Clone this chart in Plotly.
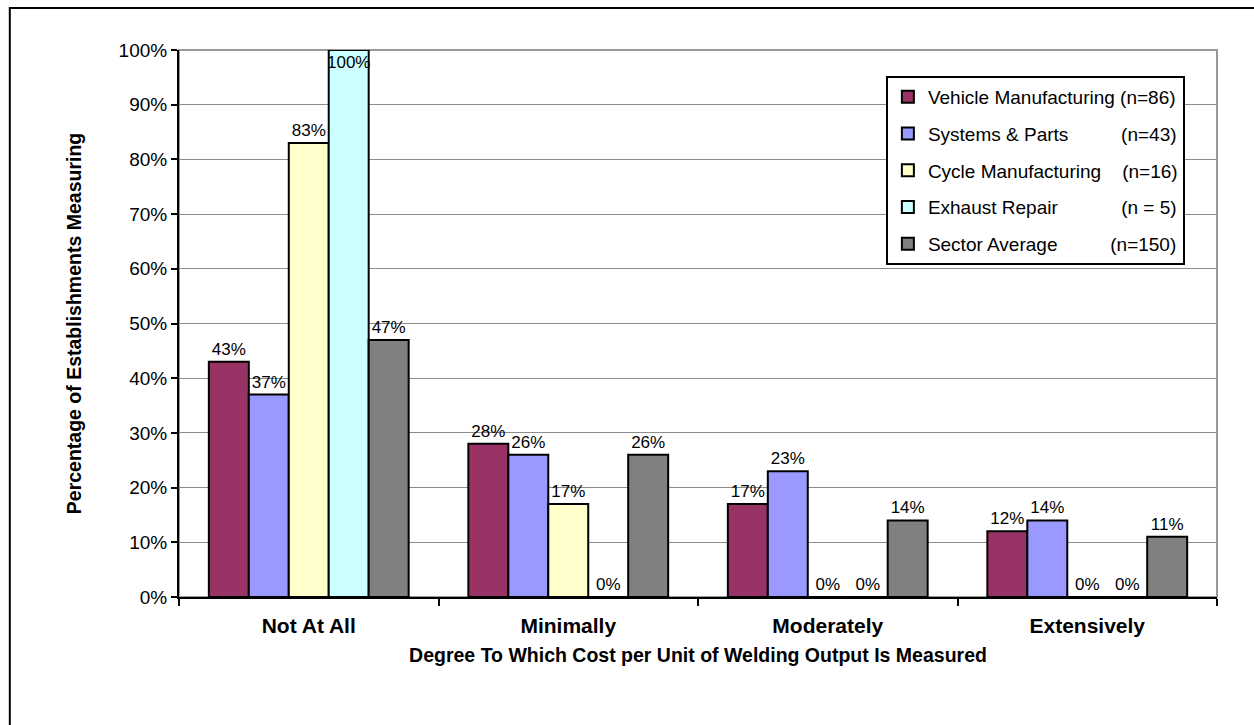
import plotly.graph_objects as go

categories = ['Not At All', 'Minimally', 'Moderately', 'Extensively']

NB = '\u00a0'
series_names = [
    'Vehicle Manufacturing (n=86)',
    'Systems & Parts' + NB * 10 + '(n=43)',
    'Cycle Manufacturing' + NB * 4 + '(n=16)',
    'Exhaust Repair' + NB * 12 + '(n' + NB + '=' + NB + '5)',
    'Sector Average' + NB * 10 + '(n=150)',
]

vehicle = [43, 28, 17, 12]
systems = [37, 26, 23, 14]
cycle = [83, 17, 0, 0]
exhaust = [100, 0, 0, 0]
sector = [47, 26, 14, 11]

colors = ['#993366', '#9999FF', '#FFFFCC', '#CCFFFF', '#808080']

fig = go.Figure()

all_series = [vehicle, systems, cycle, exhaust, sector]
for i, vals in enumerate(all_series):
    # the 100% label sits inside the bar top, like in the original
    positions = ['inside' if v >= 100 else 'outside' for v in vals]
    fig.add_trace(go.Bar(
        x=categories, y=vals, name=series_names[i],
        marker=dict(color=colors[i], line=dict(color='black', width=2)),
        text=[str(v) + '%' for v in vals],
        textposition=positions,
        insidetextanchor='end',
        constraintext='none',
        textangle=0,
        textfont=dict(family='Arial', size=17, color='black'),
        cliponaxis=False,
        legendgroup='g' + str(i),
    ))

fig.update_layout(
    width=1254, height=725,
    margin=dict(l=179, r=37, t=50, b=128),
    paper_bgcolor='white', plot_bgcolor='white',
    font=dict(family='Arial', color='black'),
    barmode='group', bargap=0.23, bargroupgap=0,
    showlegend=True,
    legend=dict(
        x=0.681, y=0.9525, xanchor='left', yanchor='top',
        bgcolor='white', bordercolor='black', borderwidth=2,
        font=dict(family='Arial', size=19, color='black'),
        tracegroupgap=9, traceorder='grouped',
    ),
    xaxis=dict(
        title=dict(text='<b>Degree To Which Cost per Unit of Welding Output Is Measured</b>',
                   font=dict(size=19.5), standoff=12),
        tickfont=dict(size=21),
        tickprefix='<b>', ticksuffix='</b>',
        ticklabelstandoff=9,
        showline=True, linecolor='black', linewidth=2,
        ticks='outside', tickson='boundaries', ticklen=7, tickcolor='black', tickwidth=2,
        showgrid=False,
    ),
    yaxis=dict(
        title=dict(text='<b>Percentage of Establishments Measuring</b>', font=dict(size=19.5), standoff=32),
        range=[0, 100], dtick=10, ticksuffix='%',
        tickfont=dict(size=19),
        showline=True, linecolor='black', linewidth=2,
        ticks='outside', ticklen=6, tickcolor='black', tickwidth=2,
        showgrid=True, gridcolor='#8c8c8c', gridwidth=1,
        zeroline=False,
    ),
    shapes=[
        # plot area border
        dict(type='rect', xref='paper', yref='paper', x0=0, x1=1, y0=0, y1=1,
             line=dict(color='#999999', width=2), layer='below'),
        # chart border (right and bottom edges fall outside the picture)
        dict(type='rect', xref='paper', yref='paper', x0=-0.163, x1=1.2, y0=-0.4, y1=1.077,
             line=dict(color='black', width=2), layer='below'),
    ],
)

fig.write_html('out.html', config={'displayModeBar': False},
               post_script="document.body.style.margin='0';")
